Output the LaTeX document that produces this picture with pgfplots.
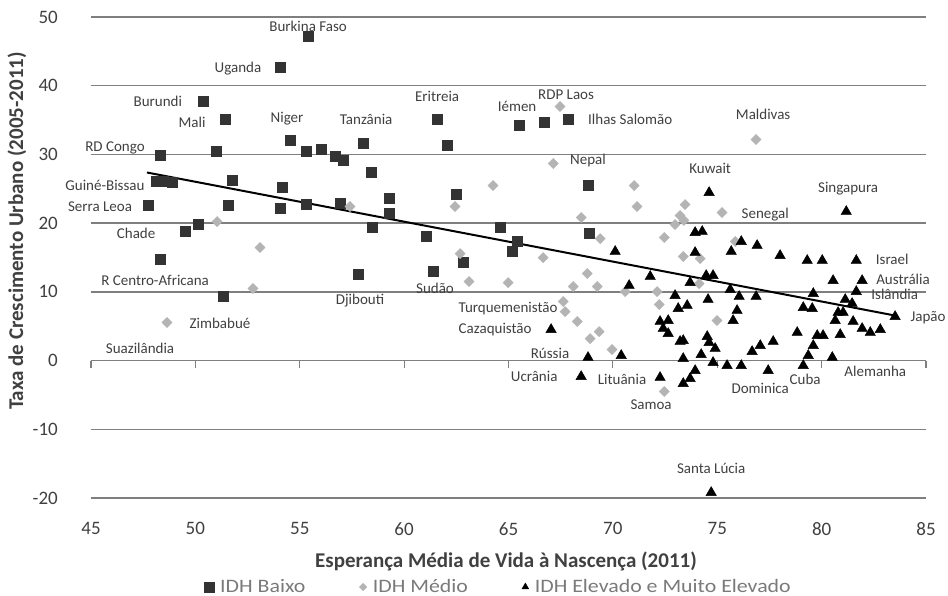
\documentclass[border=0pt]{standalone}
\usepackage{fontspec}
\setmainfont{Carlito}
\newfontfamily\legfont[FakeStretch=1.15]{Carlito}
\usepackage{pgfplots}
\pgfplotsset{compat=1.18}
\definecolor{gridc}{HTML}{7F7F7F}
\definecolor{txt}{HTML}{404040}
\definecolor{sqc}{HTML}{333333}
\definecolor{dmc}{HTML}{B4B4B4}
\definecolor{legt}{HTML}{7A7A7A}
\tikzset{lab/.style={font=\fontsize{15}{15}\selectfont, text=txt, inner sep=0pt}}
\begin{document}
\begin{tikzpicture}
\begin{axis}[
  at={(91pt,98pt)}, anchor=south west,
  scale only axis, width=835pt, height=481pt,
  xmin=45, xmax=85, ymin=-20, ymax=50,
  axis line style={draw=none},
  major tick length=0pt,
  xtick={45,50,55,60,65,70,75,80,85}, xticklabels={45,50,55,60,65,70,75,80,85},
  ytick={-20,-10,0,10,20,30,40,50}, yticklabels={-20,-10,0,10,20,30,40,50},
  ymajorgrids, grid style={gridc, line width=1.5pt},
  tick label style={font=\fontsize{19}{19}\selectfont, text=txt, inner sep=0pt},
  xticklabel style={anchor=north, yshift=-24pt},
  yticklabel style={anchor=east, xshift=-33pt},
  clip=false,
  xlabel={Esperança Média de Vida à Nascença (2011)},
  ylabel={Taxa de Crescimento Urbano (2005-2011)},
  label style={font=\bfseries\fontsize{21}{21}\selectfont, text=txt},
  xlabel style={at={(axis description cs:0.497,-0.131)}, anchor=center},
  ylabel style={at={(axis description cs:-0.0886,0.555)}, anchor=center},
  legend style={at={(axis description cs:0.488,-0.185)}, anchor=center, draw=none, fill=none,
    font=\legfont\fontsize{19}{19}\selectfont, text=legt, legend columns=3,
    /tikz/every even column/.append style={column sep=52pt},
    /tikz/every odd column/.append style={column sep=4pt}},
  legend cell align=left,
]
% Low HDI
\addplot[only marks, mark=square*, mark size=5pt, color=sqc,
  legend image post style={mark size=5pt}] coordinates {
(55.40,47.16) (54.06,42.65) (50.37,37.70) (51.42,35.08) (50.99,30.42) (48.31,29.84)
(48.11,26.06) (48.45,26.06) (48.88,25.91) (51.76,26.20) (47.73,22.56) (51.56,22.56)
(50.13,19.80) (49.50,18.78) (48.31,14.70) (51.32,9.32) (54.54,32.02) (55.30,30.42)
(56.02,30.71) (56.69,29.69) (57.07,29.11) (58.03,31.59) (58.42,27.37) (54.15,25.18)
(54.06,22.13) (55.30,22.71) (56.93,22.85) (58.46,19.36) (59.28,23.58) (59.28,21.40)
(57.79,12.52) (61.58,35.08) (62.06,31.30) (61.05,18.05) (61.39,12.95) (62.49,24.16)
(62.82,14.26) (64.60,19.36) (65.41,17.32) (65.17,15.87) (65.51,34.21) (66.71,34.64)
(67.86,35.08) (68.81,25.47) (68.86,18.49)
};
\addlegendentry{IDH Baixo}
% Medium HDI
\addplot[only marks, mark=square*, mark size=3.6pt, mark options={rotate=45}, color=dmc,
  legend image post style={mark size=2.6pt}] coordinates {
(48.64,5.53) (51.04,20.23) (53.10,16.45) (52.76,10.48) (57.41,22.42) (67.47,36.97)
(76.86,32.17) (67.14,28.68) (64.26,25.47) (62.44,22.42) (62.68,15.57) (63.11,11.50)
(64.98,11.35) (66.66,14.99) (68.48,20.82) (69.39,17.76) (68.77,12.66) (68.10,10.77)
(69.25,10.77) (70.59,10.04) (72.12,10.04) (72.46,17.90) (67.62,8.59) (67.71,7.13)
(68.29,5.68) (68.91,3.20) (69.34,4.22) (69.96,1.60) (72.22,8.15) (72.46,-4.51)
(71.02,25.47) (71.16,22.42) (73.46,22.71) (73.22,21.11) (72.98,19.80) (75.23,21.54)
(73.37,15.14) (74.18,14.85) (75.86,17.32) (74.13,11.21) (74.99,5.82) (73.40,20.40)
};
\addlegendentry{IDH Médio}
% High and very high HDI
\addplot[only marks, mark=triangle*, mark size=6pt, color=black,
  legend image post style={mark size=4pt}] coordinates {
(74.61,24.45) (81.18,21.69) (73.94,18.63) (74.28,18.78) (76.15,17.32) (76.91,16.74)
(75.67,15.87) (73.94,15.72) (78.01,15.28) (79.31,14.56) (80.03,14.56) (81.66,14.56)
(80.55,11.64) (81.94,11.64) (79.60,9.75) (81.66,10.04) (81.13,8.88) (81.46,8.30)
(79.12,7.71) (79.55,7.57) (80.79,6.99) (81.03,6.99) (83.52,6.40) (80.65,5.82)
(81.51,5.68) (81.94,4.66) (82.33,4.08) (82.81,4.51) (78.83,4.08) (79.79,3.64)
(80.07,3.64) (80.89,3.78) (79.60,2.18) (79.36,0.73) (80.51,0.44) (79.12,-0.73)
(71.79,12.23) (73.70,11.35) (74.47,12.37) (74.80,12.37) (75.62,10.33) (76.05,9.32)
(76.86,9.32) (72.98,9.46) (74.56,8.88) (73.13,7.57) (73.56,8.01) (75.95,7.28)
(75.76,5.82) (72.26,5.68) (72.65,5.82) (72.41,4.66) (72.65,3.93) (73.22,2.77)
(73.37,2.91) (74.52,3.49) (74.61,2.62) (74.90,1.75) (76.67,1.31) (77.06,2.18)
(77.68,2.77) (73.37,0.29) (74.23,0.87) (74.80,-0.29) (75.47,-0.73) (76.15,-0.73)
(77.44,-1.46) (72.26,-2.47) (73.94,-1.46) (73.70,-2.62) (73.37,-3.35) (74.71,-19.21)
(70.11,15.87) (70.78,10.92) (68.81,0.44) (70.40,0.73) (68.48,-2.33) (67.04,4.51)
};
\addlegendentry{IDH Elevado e Muito Elevado}
% trend line
\addplot[forget plot, black, line width=2pt] coordinates {(47.68,27.37) (83.52,6.55)};
% tick marks on the zero line
\pgfplotsinvokeforeach{45,50,55,60,65,70,75,80,85}{
  \draw[gridc, line width=1.2pt] (axis cs:#1,0) -- ++(0pt,-7pt);
}
% data labels
\node[lab] at (axis cs:55.40,48.7) {Burkina Faso};
\node[lab] at (axis cs:52.04,42.5) {Uganda};
\node[lab] at (axis cs:48.2,37.7) {Burundi};
\node[lab] at (axis cs:49.84,34.6) {Mali};
\node[lab] at (axis cs:46.15,30.9) {RD Congo};
\node[lab] at (axis cs:45.67,25.5) {Guiné-Bissau};
\node[lab] at (axis cs:45.43,22.4) {Serra Leoa};
\node[lab] at (axis cs:47.16,18.5) {Chade};
\node[lab] at (axis cs:48.07,11.6) {R Centro-Africana};
\node[lab] at (axis cs:51.18,5.4) {Zimbabué};
\node[lab] at (axis cs:47.35,1.75) {Suazilândia};
\node[lab] at (axis cs:54.39,35.2) {Niger};
\node[lab] at (axis cs:58.18,35.1) {Tanzânia};
\node[lab] at (axis cs:57.89,8.7) {Djibouti};
\node[lab] at (axis cs:61.58,38.4) {Eritreia};
\node[lab] at (axis cs:61.48,10.5) {Sudão};
\node[lab] at (axis cs:65.41,37.0) {Iémen};
\node[lab] at (axis cs:67.76,38.7) {RDP Laos};
\node[lab] at (axis cs:70.83,35.1) {Ilhas Salomão};
\node[lab] at (axis cs:68.81,29.1) {Nepal};
\node[lab] at (axis cs:64.98,7.6) {Turquemenistão};
\node[lab] at (axis cs:64.36,4.5) {Cazaquistão};
\node[lab] at (axis cs:66.99,1.0) {Rússia};
\node[lab] at (axis cs:66.23,-2.3) {Ucrânia};
\node[lab] at (axis cs:70.44,-2.8) {Lituânia};
\node[lab] at (axis cs:71.83,-6.4) {Samoa};
\node[lab] at (axis cs:77.2,35.8) {Maldivas};
\node[lab] at (axis cs:74.66,27.9) {Kuwait};
\node[lab] at (axis cs:81.27,25.0) {Singapura};
\node[lab] at (axis cs:77.30,21.3) {Senegal};
\node[lab] at (axis cs:83.38,14.8) {Israel};
\node[lab] at (axis cs:83.9,11.8) {Austrália};
\node[lab] at (axis cs:83.5,9.6) {Islândia};
\node[lab] at (axis cs:85.1,6.3) {Japão};
\node[lab] at (axis cs:82.57,-1.5) {Alemanha};
\node[lab] at (axis cs:79.21,-2.8) {Cuba};
\node[lab] at (axis cs:77.06,-4.1) {Dominica};
\node[lab] at (axis cs:74.71,-15.7) {Santa Lúcia};
\end{axis}
\pgfresetboundingbox
\path (0,0) rectangle (948pt,596pt);
\end{tikzpicture}
\end{document}
